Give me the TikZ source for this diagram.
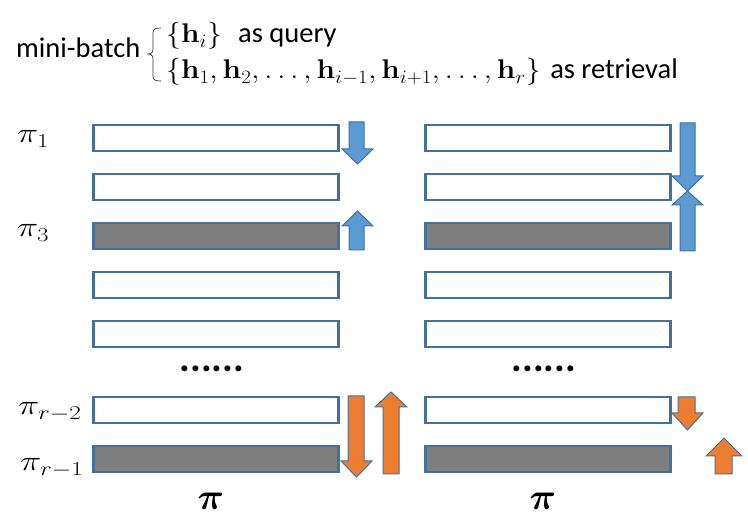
\RequirePackage{fix-cm}
\documentclass[tikz,border=0pt]{standalone}
\usepackage{amsmath,bm,graphicx}
\usepackage[no-math]{fontspec}
\setmainfont{Carlito}
\definecolor{barline}{HTML}{41719C}
\definecolor{arrblue}{HTML}{5B9BD5}
\definecolor{arrorange}{HTML}{ED7D31}
\definecolor{bargray}{HTML}{7F7F7F}
% vertical block arrow: style, shaft xl xr, head xa xb, flat end y, head base y, tip y
\newcommand{\blockarrow}[8]{%
  \filldraw[#1] (#2,#6) -- (#3,#6) -- (#3,#7) -- (#5,#7) -- ({(#4+#5)/2},#8) -- (#4,#7) -- (#2,#7) -- cycle;}
\newcommand{\wideM}[2]{\scalebox{#1}[1]{#2}}
\begin{document}
\begin{tikzpicture}[x=1pt,y=-1pt,
  bar/.style={draw=barline,line width=2.6pt,minimum width=245pt,minimum height=26pt,inner sep=0pt,fill=white},
  graybar/.style={bar,fill=bargray},
  blueArr/.style={fill=arrblue,draw=barline,line width=1pt,line join=miter},
  orangeArr/.style={fill=arrorange,draw=barline,line width=1pt,line join=miter},
  pilab/.style={anchor=base west,inner sep=0pt,font=\fontsize{28}{32}\selectfont},
  txt/.style={anchor=base west,inner sep=0pt,font=\fontsize{28.5}{32}\selectfont},
  mth/.style={anchor=base west,inner sep=0pt,font=\fontsize{27}{31}\selectfont},
  dots/.style={inner sep=0pt,font=\fontsize{40}{44}\selectfont\bfseries},
  bigpi/.style={anchor=base,inner sep=0pt,font=\fontsize{37}{40}\selectfont}]
\useasboundingbox (0,0) rectangle (748,526);
% header
\node[txt] (mb) at (16,58) {mini-batch};
\draw[line width=0.7pt,black!80] (161,28) .. controls (155,28) and (153,29) .. (153,33) -- (153,49) .. controls (153,53) and (151,54) .. (147,54)
  .. controls (151,54) and (153,55) .. (153,59) -- (153,76) .. controls (153,80) and (155,81) .. (161,81);
\node[mth] (q) at (166,43) {\wideM{1.1}{$\{\mathbf{h}_i\}$}};
\node[txt] (asq) at (238,43) {as query};
\node[mth] (r) at (166,79) {\wideM{1.1}{$\{\mathbf{h}_1,\mathbf{h}_2,\ldots,\mathbf{h}_{i-1},\mathbf{h}_{i+1},\ldots,\mathbf{h}_r\}$}};
\node[txt,anchor=base east] (asr) at (678,79) {as retrieval};
% left column bars
\node[bar] (L1) at (216,138) {};
\node[bar] (L2) at (216,187) {};
\node[graybar] (L3) at (216,236) {};
\node[bar] (L4) at (216,285) {};
\node[bar] (L5) at (216,334) {};
\node[bar] (L6) at (216,410) {};
\node[graybar] (L7) at (216,459) {};
% right column bars
\node[bar] (R1) at (548,138) {};
\node[bar] (R2) at (548,187) {};
\node[graybar] (R3) at (548,236) {};
\node[bar] (R4) at (548,285) {};
\node[bar] (R5) at (548,334) {};
\node[bar] (R6) at (548,410) {};
\node[graybar] (R7) at (548,459) {};
% labels
\node[pilab] (p1) at (17,143) {\wideM{1.28}{$\pi_1$}};
\node[pilab] (p3) at (17,237) {\wideM{1.28}{$\pi_3$}};
\node[pilab] (pr2) at (18,415) {\wideM{1.28}{$\pi_{r-2}$}};
\node[pilab] (pr1) at (20,471) {\wideM{1.28}{$\pi_{r-1}$}};
\node[dots] (d1) at (212,369) {......};
\node[dots] (d2) at (544,369) {......};
\node[bigpi] (b1) at (211,510) {$\bm{\pi}$};
\node[bigpi] (b2) at (543,510) {$\bm{\pi}$};
% blue arrows left
\blockarrow{blueArr}{349}{364}{342}{373}{122}{149}{164}
\blockarrow{blueArr}{349}{364}{342}{373}{250}{226}{211}
% blue arrows right
\blockarrow{blueArr}{680}{695}{672}{703}{123}{176}{191}
\blockarrow{blueArr}{680}{695}{672}{703}{251}{205}{191}
% orange arrows left
\blockarrow{orangeArr}{348}{364}{341}{372}{396}{461}{477}
\blockarrow{orangeArr}{383}{399}{375}{407}{474}{407}{392}
% orange arrows right
\blockarrow{orangeArr}{678}{695}{672}{703}{397}{413}{430}
\blockarrow{orangeArr}{715}{732}{706}{742}{474}{456}{438}
\end{tikzpicture}
\end{document}
